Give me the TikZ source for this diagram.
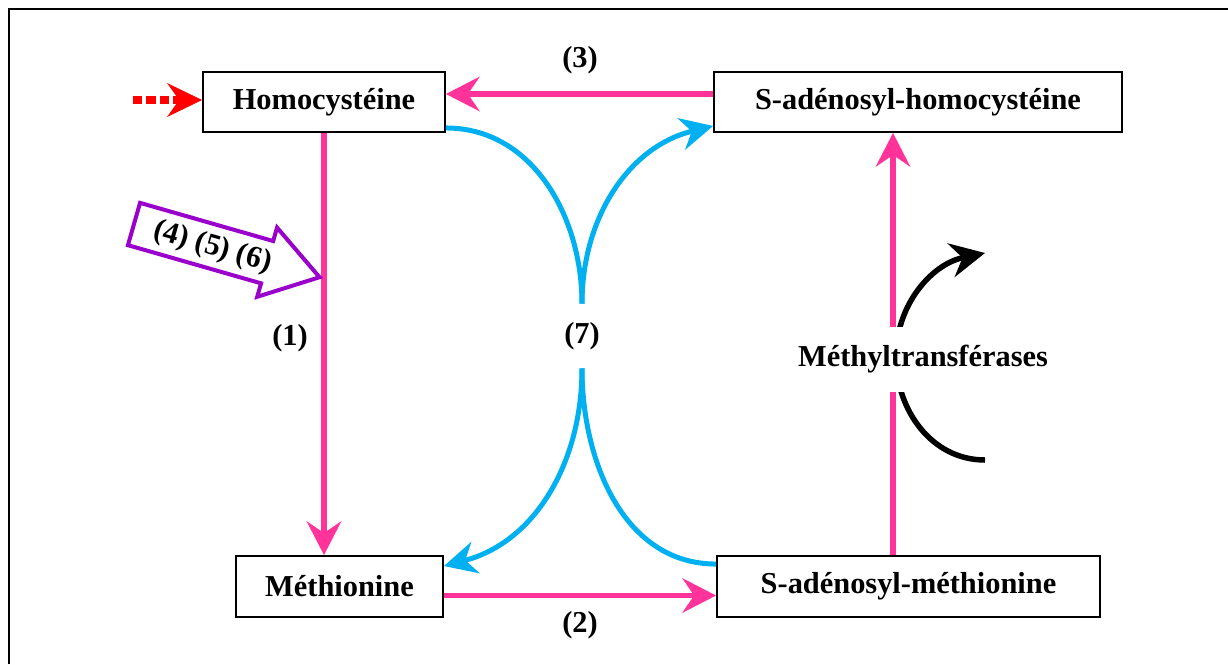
\documentclass[tikz,border=0pt]{standalone}
\usepackage{fontspec}
\setmainfont{Liberation Serif}
\usetikzlibrary{arrows.meta,positioning,calc}

\definecolor{cyclepink}{RGB}{255,51,153}
\definecolor{cycleblue}{RGB}{0,176,240}
\definecolor{cyclepurple}{RGB}{153,0,204}

\begin{document}
\begin{tikzpicture}[x=0.02cm,y=0.02cm,
  every node/.style={font=\bfseries\fontsize{17.3}{20}\selectfont},
  metab/.style={draw, line width=1.1pt, minimum height=1.2cm, inner sep=0pt},
  pinkarr/.style={draw=cyclepink, line width=0.115cm,
    -{Stealth[length=0.68cm,width=0.7cm,inset=0.24cm,line width=0pt]}},
  bluearr/.style={draw=cycleblue, line width=0.1cm},
  bluetip/.style={-{Stealth[length=0.66cm,width=0.66cm,inset=0.22cm,line width=0pt]}}]
\useasboundingbox (0,0) rectangle (1228,-664);
\draw[line width=1.1pt] (9,-664) -- (9,-9) -- (1228,-9);

% the four metabolites
\node[metab, minimum width=4.84cm] (homo) at (324,-102) {Homocystéine};
\node[metab, minimum width=8.16cm] (sah) at (918,-102) {S-adénosyl-homocystéine};
\node[metab, minimum width=4.14cm, minimum height=1.22cm] (meth) at (339.5,-586.5) {Méthionine};
\node[metab, minimum width=7.66cm, minimum height=1.22cm] (sam) at (908.5,-586.5) {S-adénosyl-méthionine};

% pink reactions
\draw[pinkarr] ([yshift=0.16cm]sah.west) -- ([yshift=0.16cm]homo.east);
\node (r3) at (580,-60) {(3)};
\draw[pinkarr] (homo.south) -- (homo.south |- meth.north);
\node (r1) at (290,-338) {(1)};
\draw[pinkarr] ([yshift=-0.18cm]meth.east) -- ([yshift=-0.18cm]meth.east -| sam.west);
\node (r2) at (580,-625) {(2)};
\draw[pinkarr] ([xshift=-0.31cm]sam.north) -- ([xshift=-0.31cm]sam.north |- sah.south);

% dotted input into homocysteine
\coordinate (feed) at (133,-100);
\draw[red, line width=0.16cm, dash pattern=on 0.19cm off 0.08cm,
  -{Stealth[length=0.7cm,width=0.68cm,inset=0.24cm,line width=0pt]}] (feed) -- (feed -| homo.west);

% blue exchange (7)
\node[minimum height=1.28cm, inner sep=0pt] (seven) at (582,-336) {(7)};
\draw[bluearr] ([yshift=0.1cm]homo.south east) to[out=0,in=90] (seven.north);
\draw[bluearr, bluetip] (seven.north) to[out=90,in=194] ([yshift=0.14cm]sah.south west);
\draw[bluearr] ([yshift=-0.18cm]sam.north west) to[out=180,in=-90] (seven.south);
\draw[bluearr, bluetip] (seven.south) to[out=-90,in=15] ([yshift=-0.22cm]meth.north east);

% methyltransferases
\coordinate (mt-in) at (985,-460);
\coordinate (mt-out) at (985,-253);
\draw[line width=0.11cm, -{Stealth[length=0.7cm,width=0.7cm,inset=0.24cm,line width=0pt]}]
  (mt-in) to[out=180,in=-90] (896,-357) to[out=90,in=192] (mt-out);
\node[fill=white, minimum height=1.3cm, inner sep=0pt] (mt) at (923,-359) {Méthyltransférases};

% cofactors (4) (5) (6)
\begin{scope}[shift={(134,-224)}, rotate=-16]
  \draw[cyclepurple, line width=0.08cm] (0,22) -- (138.5,22) -- (138.5,36) -- (193,0)
    -- (138.5,-36) -- (138.5,-22) -- (0,-22) -- cycle;
  \node[rotate=-16] (cofac) at (82,-1) {(4) (5) (6)};
\end{scope}
\end{tikzpicture}
\end{document}
